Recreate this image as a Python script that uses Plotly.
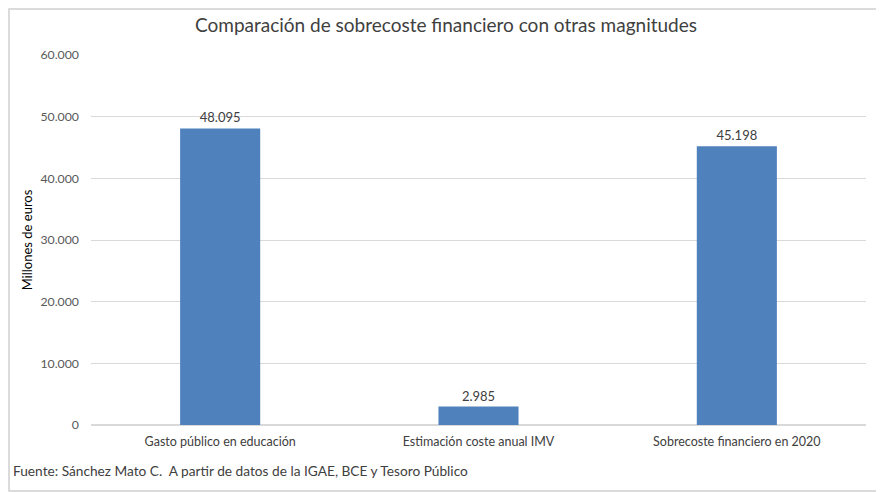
import plotly.graph_objects as go

# Datos (millones de euros)
categorias = ["Gasto público en educación", "Estimación coste anual IMV", "Sobrecoste financiero en 2020"]
valores = [48095, 2985, 45198]
ticks_y = [0, 10000, 20000, 30000, 40000, 50000, 60000]

# la página deja 8 px de margen alrededor de la figura
W, H = 876, 484
ml, mr, mt, mb = 83, 18, 47, 67
pw, ph = W - ml - mr, H - mt - mb

fig = go.Figure()
fig.add_trace(go.Bar(
    x=categorias, y=valores,
    marker=dict(color="#4f81bd", line=dict(width=0)),
    texttemplate="%{y:,d}", textposition="outside",
    textfont=dict(size=13, color="#404040"),
    cliponaxis=False,
))

fig.update_layout(
    width=W, height=H,
    margin=dict(l=ml, r=mr, t=mt, b=mb),
    paper_bgcolor="white", plot_bgcolor="white",
    separators=",.",
    font=dict(family="Lato, Open Sans, sans-serif", color="#595959", size=12),
    bargap=0.69,
    showlegend=False,
    title=dict(text="Comparación de sobrecoste financiero con otras magnitudes",
               x=0.5, xanchor="center", y=1 - 17 / H, yanchor="middle",
               font=dict(size=19, color="#404040")),
    xaxis=dict(showgrid=False, showline=False, ticks="", ticklabelstandoff=7,
               tickfont=dict(size=12.5, color="#404040")),
    yaxis=dict(range=[0, 60000], tickvals=ticks_y, tickformat=",d",
               gridcolor="#d9d9d9", gridwidth=1, zeroline=True, zerolinecolor="#d9d9d9",
               showline=False, ticks="", ticklen=0, ticklabelstandoff=11,
               tickfont=dict(size=12.3, color="#595959"),
               title=dict(text="Millones de euros", standoff=4,
                          font=dict(size=13, color="#000000"))),
)

fig.add_annotation(text="Fuente: Sánchez Mato C.  A partir de datos de la IGAE, BCE y Tesoro Público",
                   xref="paper", yref="paper", x=-(ml - 3) / pw, y=-(462 - mt - ph) / ph,
                   xanchor="left", yanchor="middle", showarrow=False,
                   font=dict(size=13.7, color="#404040"))

# marco gris alrededor del gráfico
fig.add_shape(type="rect", xref="paper", yref="paper",
              x0=-(ml - 1) / pw, x1=1 + (mr - 1) / pw, y0=-(mb - 1) / ph, y1=1 + (mt - 1) / ph,
              line=dict(color="#d0d0d0", width=1.5), layer="below")

fig.write_html("out.html")
